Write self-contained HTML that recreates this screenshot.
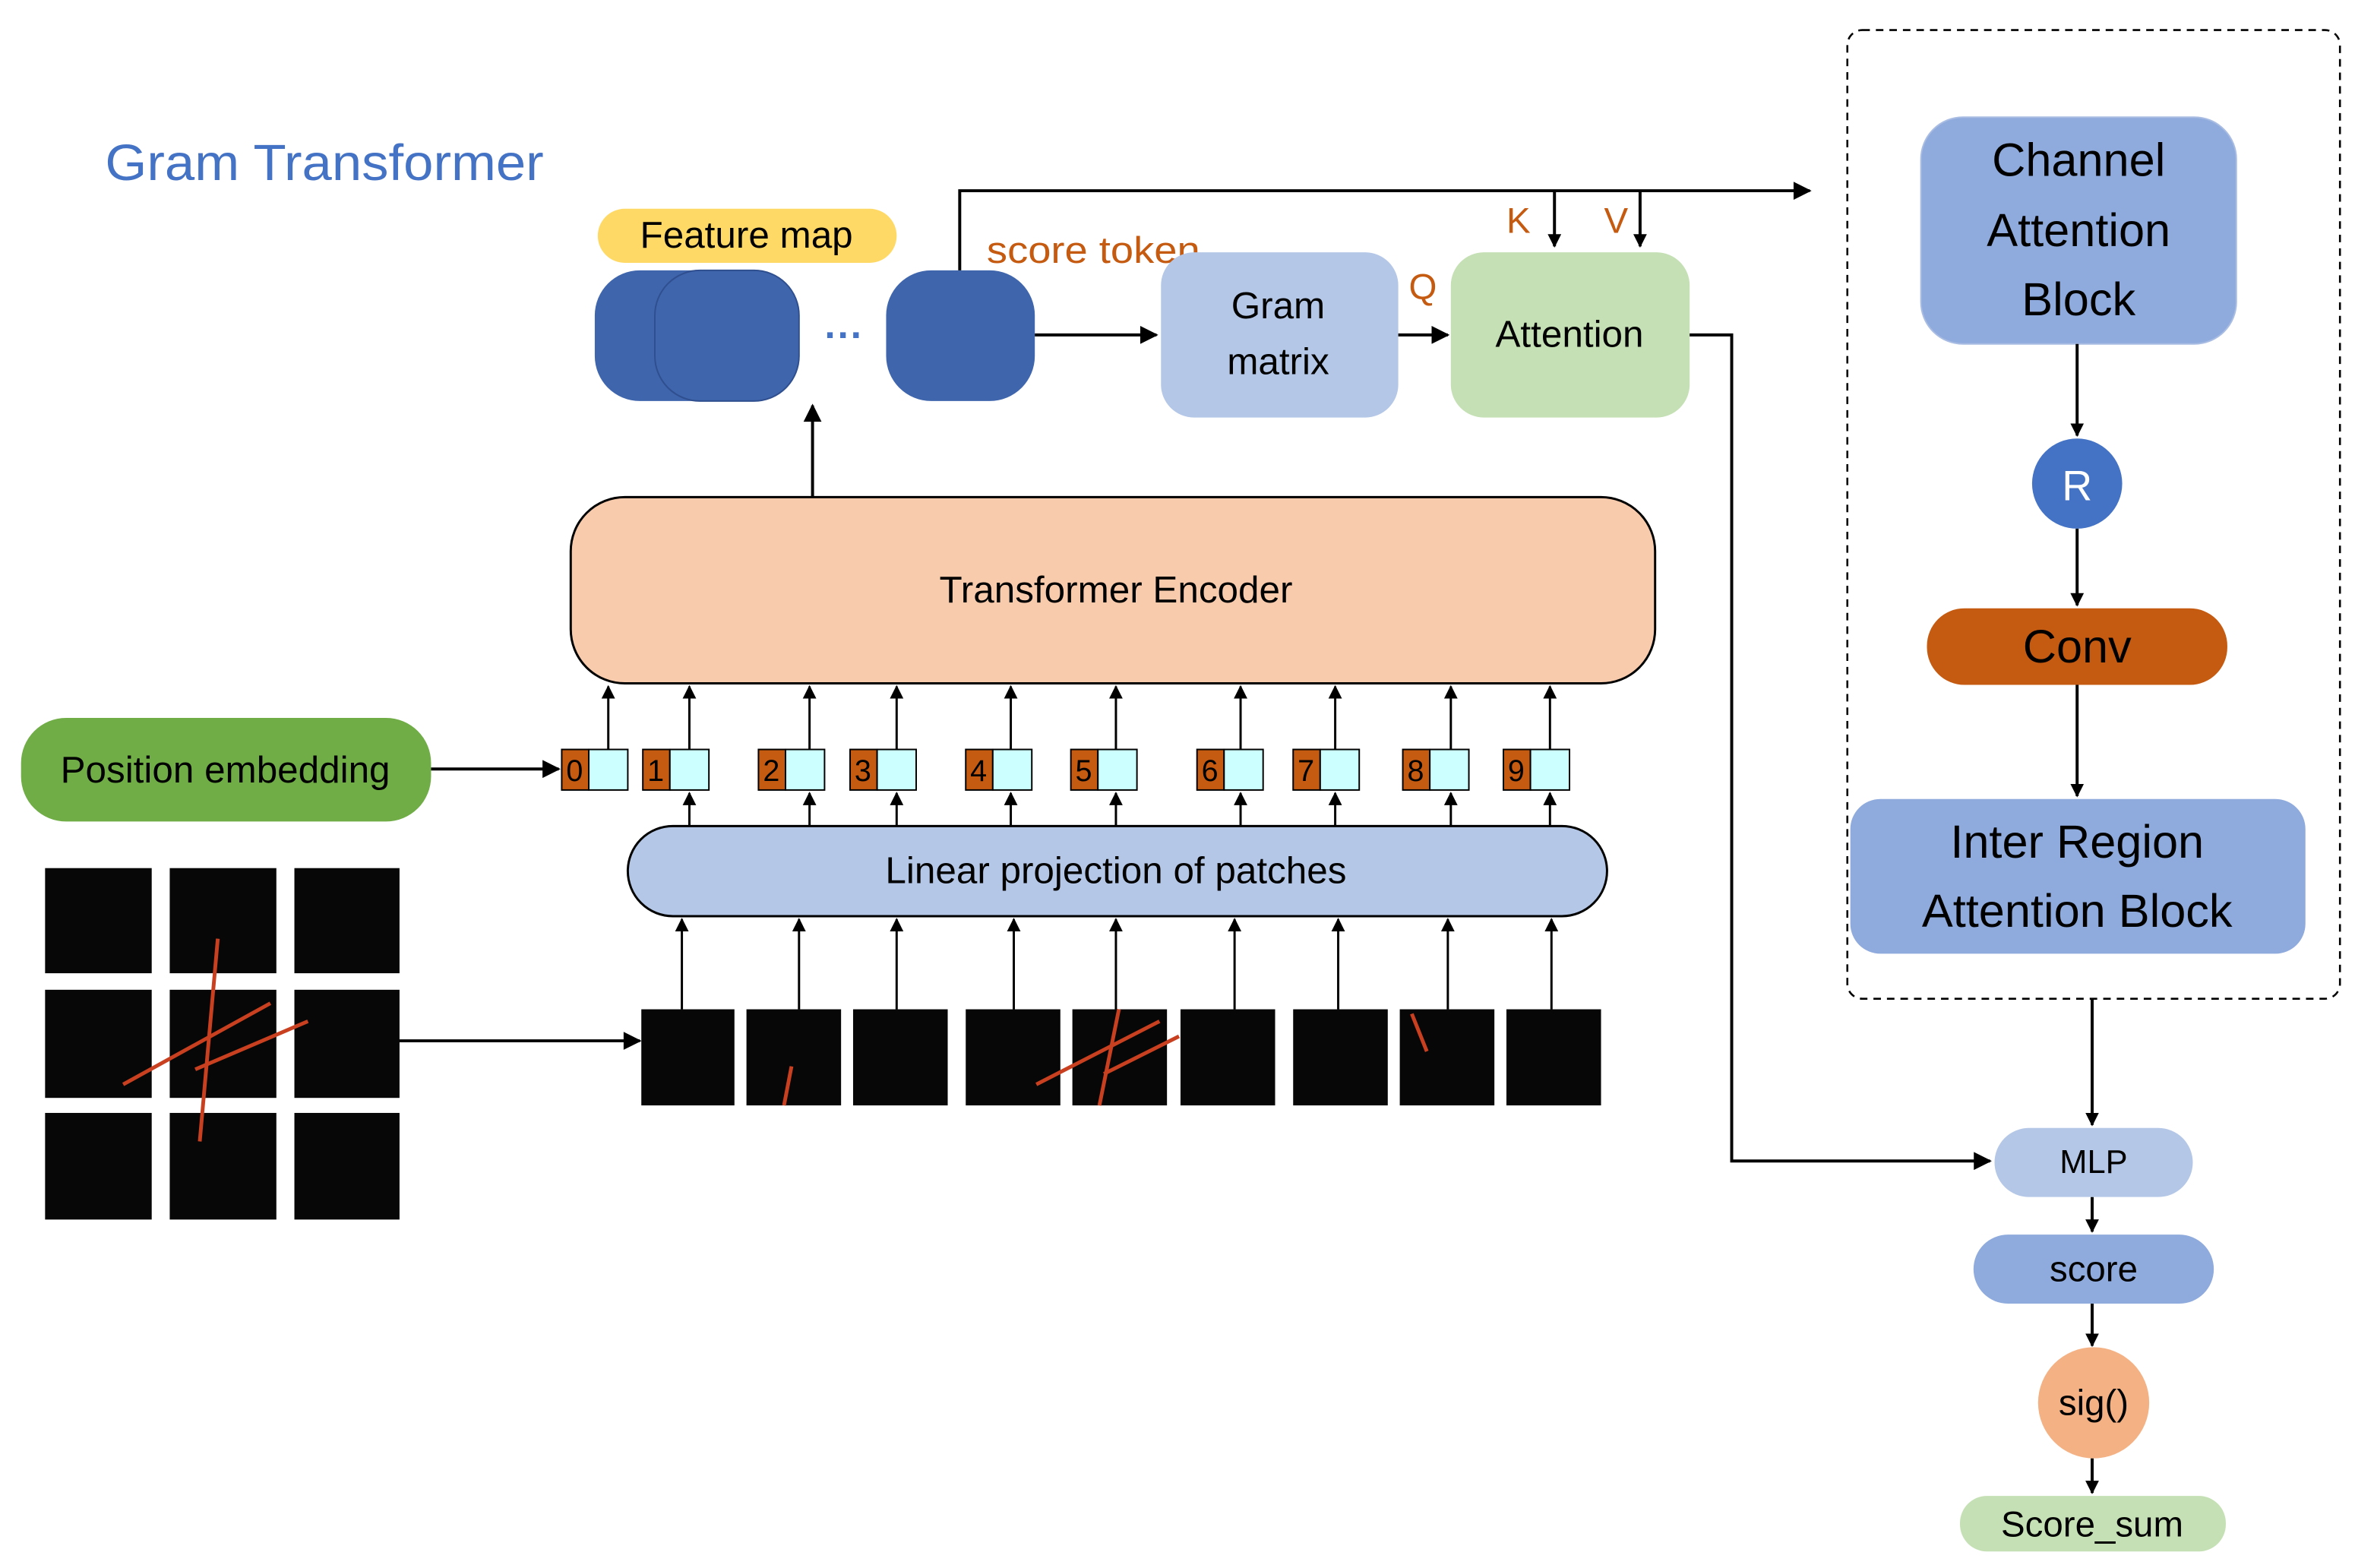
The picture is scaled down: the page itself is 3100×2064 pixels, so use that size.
<!DOCTYPE html>
<html><head><meta charset="utf-8"><style>html,body{margin:0;padding:0;background:#fff}svg{display:block}</style></head><body>
<svg width="3100" height="2064" viewBox="0 0 1568 1044" xmlns="http://www.w3.org/2000/svg" font-family="Liberation Sans, sans-serif">
<defs><marker id="a" viewBox="0 0 10 10" refX="9" refY="5" markerWidth="9" markerHeight="10" orient="auto-start-reverse" markerUnits="userSpaceOnUse"><path d="M0,0L10,5L0,10z" fill="#000"/></marker>
<marker id="b" viewBox="0 0 10 10" refX="9" refY="5" markerWidth="13" markerHeight="12" orient="auto" markerUnits="userSpaceOnUse"><path d="M0,0L10,5L0,10z" fill="#000"/></marker></defs>
<text x="70" y="120" font-size="34" fill="#4472c4" textLength="292" lengthAdjust="spacingAndGlyphs">Gram Transformer</text>
<!-- feature map -->
<rect x="398" y="139" width="199" height="36" rx="18" fill="#ffd966"/>
<text x="497" y="165" font-size="25" text-anchor="middle">Feature map</text>
<rect x="396" y="180" width="100" height="87" rx="30" fill="#3f65ad"/>
<rect x="436" y="180" width="96" height="87" rx="30" fill="#3f65ad" stroke="#2f4f8f" stroke-width="1"/>
<text x="562" y="232" font-size="26" fill="#4472c4" text-anchor="middle" font-weight="bold">···</text>
<rect x="590" y="180" width="99" height="87" rx="30" fill="#3f65ad"/>
<text x="657" y="175" font-size="25" fill="#c55a11" textLength="142" lengthAdjust="spacingAndGlyphs">score token</text>
<rect x="773" y="168" width="158" height="110" rx="22" fill="#b4c7e7"/>
<text x="851" y="212" font-size="25" text-anchor="middle">Gram</text>
<text x="851" y="249" font-size="25" text-anchor="middle">matrix</text>
<rect x="966" y="168" width="159" height="110" rx="22" fill="#c5e0b4"/>
<text x="1045" y="231" font-size="25" text-anchor="middle">Attention</text>
<text x="938" y="199" font-size="24" fill="#c55a11">Q</text>
<text x="1003" y="155" font-size="24" fill="#c55a11">K</text>
<text x="1068" y="155" font-size="24" fill="#c55a11">V</text>
<g stroke="#000" stroke-width="2" fill="none">
<path d="M639,180V127H1205" marker-end="url(#b)"/>
<path d="M1035,127V164" marker-end="url(#a)"/>
<path d="M1092,127V164" marker-end="url(#a)"/>
<path d="M689,223H770" marker-end="url(#b)"/>
<path d="M931,223H964" marker-end="url(#b)"/>
<path d="M1125,223H1153V773H1325" marker-end="url(#b)"/>
<path d="M541,331V270" marker-end="url(#b)"/>
<path d="M287,512H372" marker-end="url(#b)"/>
<path d="M205,693H426" marker-end="url(#b)"/>
</g>
<!-- encoder -->
<rect x="380" y="331" width="722" height="124" rx="36" fill="#f8cbad" stroke="#000" stroke-width="1.5"/>
<text x="743" y="401" font-size="25" text-anchor="middle">Transformer Encoder</text>
<rect x="14" y="478" width="273" height="69" rx="30" fill="#70ad47"/>
<text x="150" y="521" font-size="25" text-anchor="middle">Position embedding</text>
<!-- tokens -->
<g font-size="20">
<g transform="translate(374,0)"><rect x="0" y="499" width="18" height="27" fill="#c55a11" stroke="#000"/><text x="3" y="520">0</text><rect x="18" y="499" width="26" height="27" fill="#ccffff" stroke="#000"/></g>
<g transform="translate(428,0)"><rect x="0" y="499" width="18" height="27" fill="#c55a11" stroke="#000"/><text x="3" y="520">1</text><rect x="18" y="499" width="26" height="27" fill="#ccffff" stroke="#000"/></g>
<g transform="translate(505,0)"><rect x="0" y="499" width="18" height="27" fill="#c55a11" stroke="#000"/><text x="3" y="520">2</text><rect x="18" y="499" width="26" height="27" fill="#ccffff" stroke="#000"/></g>
<g transform="translate(566,0)"><rect x="0" y="499" width="18" height="27" fill="#c55a11" stroke="#000"/><text x="3" y="520">3</text><rect x="18" y="499" width="26" height="27" fill="#ccffff" stroke="#000"/></g>
<g transform="translate(643,0)"><rect x="0" y="499" width="18" height="27" fill="#c55a11" stroke="#000"/><text x="3" y="520">4</text><rect x="18" y="499" width="26" height="27" fill="#ccffff" stroke="#000"/></g>
<g transform="translate(713,0)"><rect x="0" y="499" width="18" height="27" fill="#c55a11" stroke="#000"/><text x="3" y="520">5</text><rect x="18" y="499" width="26" height="27" fill="#ccffff" stroke="#000"/></g>
<g transform="translate(797,0)"><rect x="0" y="499" width="18" height="27" fill="#c55a11" stroke="#000"/><text x="3" y="520">6</text><rect x="18" y="499" width="26" height="27" fill="#ccffff" stroke="#000"/></g>
<g transform="translate(861,0)"><rect x="0" y="499" width="18" height="27" fill="#c55a11" stroke="#000"/><text x="3" y="520">7</text><rect x="18" y="499" width="26" height="27" fill="#ccffff" stroke="#000"/></g>
<g transform="translate(934,0)"><rect x="0" y="499" width="18" height="27" fill="#c55a11" stroke="#000"/><text x="3" y="520">8</text><rect x="18" y="499" width="26" height="27" fill="#ccffff" stroke="#000"/></g>
<g transform="translate(1001,0)"><rect x="0" y="499" width="18" height="27" fill="#c55a11" stroke="#000"/><text x="3" y="520">9</text><rect x="18" y="499" width="26" height="27" fill="#ccffff" stroke="#000"/></g>
</g>
<g stroke="#000" stroke-width="1.5" fill="none">
<path d="M405,499V457" marker-end="url(#a)"/><path d="M459,499V457" marker-end="url(#a)"/><path d="M539,499V457" marker-end="url(#a)"/><path d="M597,499V457" marker-end="url(#a)"/><path d="M673,499V457" marker-end="url(#a)"/><path d="M743,499V457" marker-end="url(#a)"/><path d="M826,499V457" marker-end="url(#a)"/><path d="M889,499V457" marker-end="url(#a)"/><path d="M966,499V457" marker-end="url(#a)"/><path d="M1032,499V457" marker-end="url(#a)"/>
<path d="M459,550V528" marker-end="url(#a)"/><path d="M539,550V528" marker-end="url(#a)"/><path d="M597,550V528" marker-end="url(#a)"/><path d="M673,550V528" marker-end="url(#a)"/><path d="M743,550V528" marker-end="url(#a)"/><path d="M826,550V528" marker-end="url(#a)"/><path d="M889,550V528" marker-end="url(#a)"/><path d="M966,550V528" marker-end="url(#a)"/><path d="M1032,550V528" marker-end="url(#a)"/>
<path d="M454,672V612" marker-end="url(#a)"/><path d="M532,672V612" marker-end="url(#a)"/><path d="M597,672V612" marker-end="url(#a)"/><path d="M675,672V612" marker-end="url(#a)"/><path d="M743,672V612" marker-end="url(#a)"/><path d="M822,672V612" marker-end="url(#a)"/><path d="M891,672V612" marker-end="url(#a)"/><path d="M964,672V612" marker-end="url(#a)"/><path d="M1033,672V612" marker-end="url(#a)"/>
</g>
<rect x="418" y="550" width="652" height="60" rx="30" fill="#b4c7e7" stroke="#000" stroke-width="1.5"/>
<text x="743" y="588" font-size="25" text-anchor="middle">Linear projection of patches</text>
<!-- patches -->
<g fill="#070707">
<rect x="427" y="672" width="62" height="64"/><rect x="497" y="672" width="63" height="64"/><rect x="568" y="672" width="63" height="64"/><rect x="643" y="672" width="63" height="64"/><rect x="714" y="672" width="63" height="64"/><rect x="786" y="672" width="63" height="64"/><rect x="861" y="672" width="63" height="64"/><rect x="932" y="672" width="63" height="64"/><rect x="1003" y="672" width="63" height="64"/>
<rect x="30" y="578" width="71" height="70"/><rect x="113" y="578" width="71" height="70"/><rect x="196" y="578" width="70" height="70"/>
<rect x="30" y="659" width="71" height="72"/><rect x="113" y="659" width="71" height="72"/><rect x="196" y="659" width="70" height="72"/>
<rect x="30" y="741" width="71" height="71"/><rect x="113" y="741" width="71" height="71"/><rect x="196" y="741" width="70" height="71"/>
</g>
<g stroke="#c8401f" stroke-width="2.5" fill="none">
<path d="M145,625L133,760"/><path d="M82,722L180,668"/><path d="M130,712L205,680"/>
<path d="M527,710L522,736"/><path d="M745,672L732,736"/><path d="M690,722L772,680"/><path d="M735,715L785,690"/><path d="M940,675L950,700"/>
</g>
<!-- right panel -->
<rect x="1230" y="20" width="328" height="645" rx="10" fill="none" stroke="#000" stroke-width="1.3" stroke-dasharray="5 4"/>
<rect x="1279" y="78" width="210" height="151" rx="28" fill="#8faadc" stroke="#a9bde3"/>
<text x="1384" y="117" font-size="31" text-anchor="middle">Channel</text>
<text x="1384" y="164" font-size="31" text-anchor="middle">Attention</text>
<text x="1384" y="210" font-size="31" text-anchor="middle">Block</text>
<circle cx="1383" cy="322" r="30" fill="#4472c4"/>
<text x="1383" y="333" font-size="28" fill="#fff" text-anchor="middle">R</text>
<rect x="1283" y="405" width="200" height="51" rx="25" fill="#c55a11"/>
<text x="1383" y="441" font-size="31" text-anchor="middle">Conv</text>
<rect x="1232" y="532" width="303" height="103" rx="20" fill="#8faadc"/>
<text x="1383" y="571" font-size="31" text-anchor="middle">Inter Region</text>
<text x="1383" y="617" font-size="31" text-anchor="middle">Attention Block</text>
<g stroke="#000" stroke-width="2" fill="none">
<path d="M1383,229V290" marker-end="url(#a)"/><path d="M1383,352V403" marker-end="url(#a)"/><path d="M1383,456V530" marker-end="url(#a)"/>
<path d="M1393,665V749" marker-end="url(#a)"/><path d="M1393,797V820" marker-end="url(#a)"/><path d="M1393,868V896" marker-end="url(#a)"/><path d="M1393,971V994" marker-end="url(#a)"/>
</g>
<rect x="1328" y="751" width="132" height="46" rx="23" fill="#b4c7e7"/>
<text x="1394" y="781" font-size="22" text-anchor="middle">MLP</text>
<rect x="1314" y="822" width="160" height="46" rx="23" fill="#8faadc"/>
<text x="1394" y="853" font-size="24" text-anchor="middle">score</text>
<circle cx="1394" cy="934" r="37" fill="#f4b183"/>
<text x="1394" y="942" font-size="24" text-anchor="middle">sig()</text>
<rect x="1305" y="996" width="177" height="37" rx="18" fill="#c5e0b4"/>
<text x="1393" y="1023" font-size="24" text-anchor="middle">Score_sum</text>
</svg>
</body></html>
